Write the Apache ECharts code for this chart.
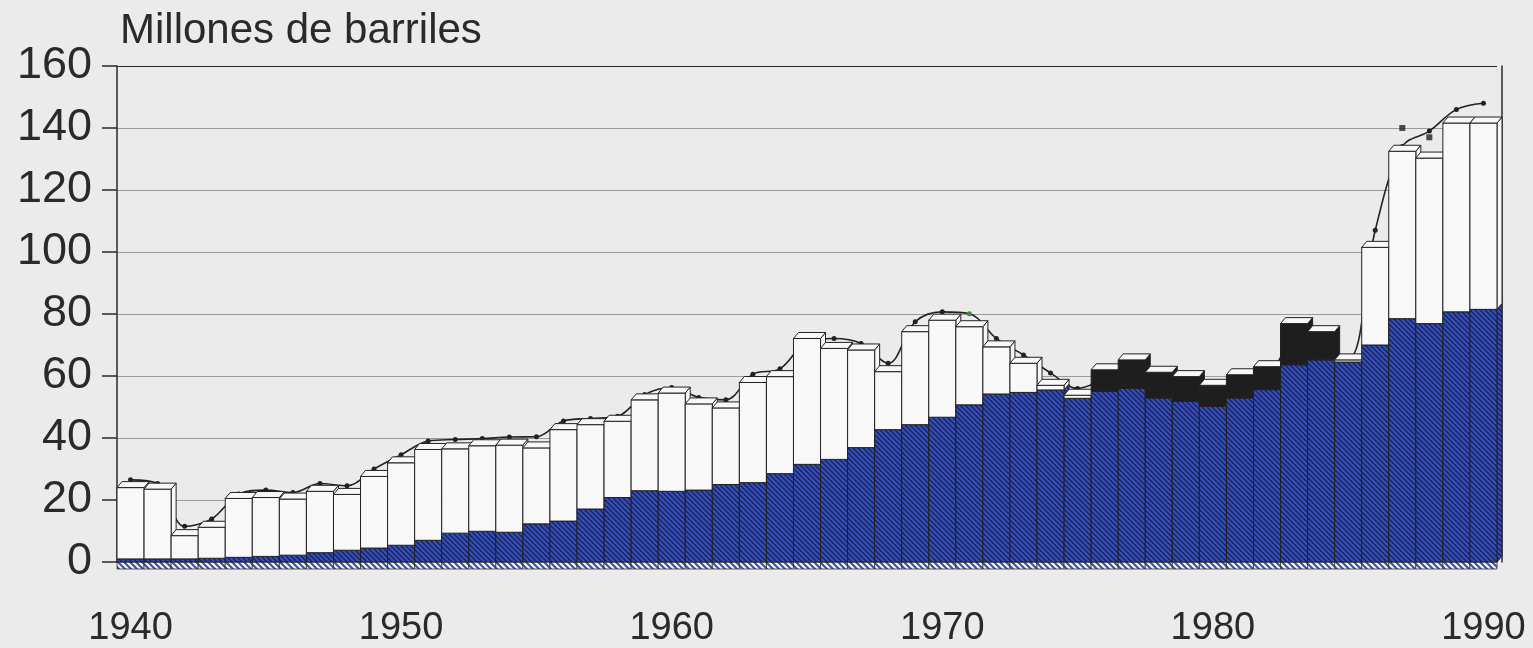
<!DOCTYPE html>
<html>
<head>
<meta charset="utf-8">
<script src="https://cdn.jsdelivr.net/npm/echarts@6/dist/echarts.min.js"></script>
<style>
  html, body { margin: 0; padding: 0; background: #ebebeb; }
  #chart { width: 1533px; height: 648px; }
</style>
</head>
<body>
<div id="chart"></div>
<script>
// años 1940..1990
const years = []
for (let y = 1940; y <= 1990; y++) years.push(String(y))

// producción (azul rayado)
const azul = [1, 1, 1, 1.2, 1.5, 1.8, 2.2, 3, 3.8, 4.5,
  5.4, 7, 9.3, 9.9, 9.6, 12.3, 13.2, 17.1, 20.8, 23,
  22.8, 23.2, 25, 25.6, 28.5, 31.5, 33.1, 36.9, 42.7, 44.3,
  46.7, 50.7, 54.2, 54.7, 55.5, 52.8, 55, 56, 52.9, 51.8,
  50.2, 52.9, 55.6, 63.6, 65.2, 64.5, 70, 78.5, 76.9, 80.7,
  81.5]

// segmento negro (1976-1984)
const negro = [0, 0, 0, 0, 0, 0, 0, 0, 0, 0,
  0, 0, 0, 0, 0, 0, 0, 0, 0, 0,
  0, 0, 0, 0, 0, 0, 0, 0, 0, 0,
  0, 0, 0, 0, 0, 0, 7, 9.2, 8.3, 8,
  6.8, 7.5, 7.4, 13.3, 9.1, 0, 0, 0, 0, 0,
  0]

// segmento blanco
const blanco = [23, 22.5, 7.5, 10, 19, 19, 18.1, 19.8, 18, 23.1,
  26.6, 29.3, 27.2, 27.6, 28.1, 24.5, 29.5, 27.2, 24.6, 29.3,
  31.7, 27.8, 24.7, 32.3, 31.3, 40.6, 35.8, 31.5, 18.7, 30,
  31.3, 25.2, 15.2, 9.4, 1.5, 1, 0, 0, 0, 0,
  0, 0, 0, 0, 0, 0.7, 31.5, 54, 53.4, 60.9,
  60.1]

// curva con puntos
const linea = [26.5, 25.3, 11.5, 13.9, 21.9, 23.2, 22.4, 25.3, 24.6, 30,
  34.6, 39, 39.5, 39.8, 40.3, 40.4, 45.5, 46.3, 47, 54,
  56.3, 53.1, 52.3, 60.6, 62.3, 71, 72.1, 70.5, 64.1, 77.5,
  80.7, 80.1, 72.1, 66.8, 61, 56, 59, 62, 59, 57,
  55, 58, 60, 70, 68, 65.5, 107, 134, 139, 146,
  148]

// marcas cuadradas sueltas
const cuadros = years.map(() => null)
cuadros[47] = 140
cuadros[48] = 137

const yTicks = [0, 20, 40, 60, 80, 100, 120, 140, 160]

function hatch(size, bg, fg, lw) {
  const c = document.createElement('canvas')
  c.width = size
  c.height = size
  const ctx = c.getContext('2d')
  ctx.fillStyle = bg
  ctx.fillRect(0, 0, size, size)
  ctx.strokeStyle = fg
  ctx.lineWidth = lw
  ctx.beginPath()
  ctx.moveTo(0, 0); ctx.lineTo(size, size)
  ctx.moveTo(-2, size - 2); ctx.lineTo(2, size + 2)
  ctx.moveTo(size - 2, -2); ctx.lineTo(size + 2, 2)
  ctx.stroke()
  return c
}

const bluePat = { image: hatch(5, '#3650b8', '#17205c', 1.3), repeat: 'repeat' }
const floorPat = { image: hatch(6, '#f4f4f4', '#3a4fa8', 2), repeat: 'repeat' }

const DX = 5
const DY = 6

function renderBar(params, api) {
  const i = api.value(0)
  const b = api.value(1)
  const k = api.value(2)
  const w = api.value(3)
  const base = api.coord([i, 0])
  const width = api.size([1, 0])[0]
  const xl = base[0] - width / 2
  const xr = xl + width
  const y0 = base[1]
  const y1 = api.coord([i, b])[1]
  const y2 = api.coord([i, b + k])[1]
  const y3 = api.coord([i, b + k + w])[1]
  const segs = [[y0, y1, bluePat], [y1, y2, '#1e1e1e'], [y2, y3, '#f8f8f8']]
    .filter(s => s[0] - s[1] > 0.2)
  const line = { stroke: '#222', lineWidth: 1 }
  const children = []
  // suelo rayado
  children.push({
    type: 'rect',
    shape: { x: xl, y: y0, width: width, height: 7 },
    style: { fill: floorPat, stroke: '#333', lineWidth: 0.8 }
  })
  segs.forEach(s => {
    children.push({
      type: 'polygon',
      shape: { points: [[xr, s[1]], [xr + DX, s[1] - DY], [xr + DX, s[0] - DY], [xr, s[0]]] },
      style: Object.assign({ fill: s[2] }, line)
    })
  })
  segs.forEach(s => {
    children.push({
      type: 'rect',
      shape: { x: xl, y: s[1], width: width, height: s[0] - s[1] },
      style: Object.assign({ fill: s[2] }, line)
    })
  })
  children.push({
    type: 'polygon',
    shape: { points: [[xl, y3], [xl + DX, y3 - DY], [xr + DX, y3 - DY], [xr, y3]] },
    style: Object.assign({ fill: '#f8f8f8' }, line)
  })
  return { type: 'group', children: children }
}

const barData = years.map((y, i) => [i, azul[i], negro[i], blanco[i]])

const gridCols = yTicks.map((t, i) => i === yTicks.length - 1 ? '#2a2a2a' : '#9a9a9a')

const chart = echarts.init(document.getElementById('chart'))
chart.setOption({
  backgroundColor: '#ebebeb',
  animation: false,
  textStyle: { fontFamily: '"Liberation Sans", Arial, sans-serif', color: '#2a2a2a' },
  title: {
    text: 'Millones de barriles',
    left: 115,
    top: 5,
    textStyle: { fontSize: 42, fontWeight: 'normal', color: '#2a2a2a' }
  },
  grid: { left: 117, right: 36, top: 66, bottom: 84 },
  xAxis: {
    type: 'category',
    data: years,
    boundaryGap: true,
    axisLine: { lineStyle: { color: '#2a2a2a', width: 1.5 } },
    axisTick: { alignWithLabel: true, interval: 0, length: 24, lineStyle: { color: '#333', width: 1.2 } },
    axisLabel: {
      interval: (idx) => idx % 10 === 0,
      fontSize: 38, color: '#2a2a2a', margin: 48
    }
  },
  yAxis: [
    {
      type: 'value',
      min: yTicks[0],
      max: yTicks[yTicks.length - 1],
      interval: 20,
      axisLine: { show: true, lineStyle: { color: '#2a2a2a', width: 1.5 } },
      axisTick: { show: true, inside: false, length: 15, lineStyle: { color: '#2a2a2a', width: 1.5 } },
      axisLabel: { fontSize: 45, color: '#2a2a2a', margin: 25 },
      splitLine: { lineStyle: { color: gridCols, width: 1.2 } }
    },
    {
      type: 'value',
      position: 'right',
      offset: 5,
      min: yTicks[0],
      max: yTicks[yTicks.length - 1],
      interval: 20,
      axisLine: { show: true, lineStyle: { color: '#2a2a2a', width: 1.5 } },
      axisTick: { show: false },
      axisLabel: { show: false },
      splitLine: { show: false }
    }
  ],
  series: [
    {
      name: 'curva',
      type: 'line',
      data: linea.map((v, i) => i === 31 ? { value: v, itemStyle: { color: '#3c8a3c' } } : v),
      smooth: 0.35,
      symbol: 'circle',
      symbolSize: 5,
      z: 1,
      itemStyle: { color: '#222' },
      lineStyle: { color: '#222', width: 1.6 }
    },
    {
      name: 'barras',
      type: 'custom',
      renderItem: renderBar,
      data: barData,
      encode: { x: 0, y: 1 },
      clip: false,
      z: 3
    },
    {
      name: 'cuadros',
      type: 'scatter',
      data: cuadros,
      symbol: 'rect',
      symbolSize: 6,
      z: 4,
      itemStyle: { color: '#222' }
    }
  ]
})
</script>
</body>
</html>
